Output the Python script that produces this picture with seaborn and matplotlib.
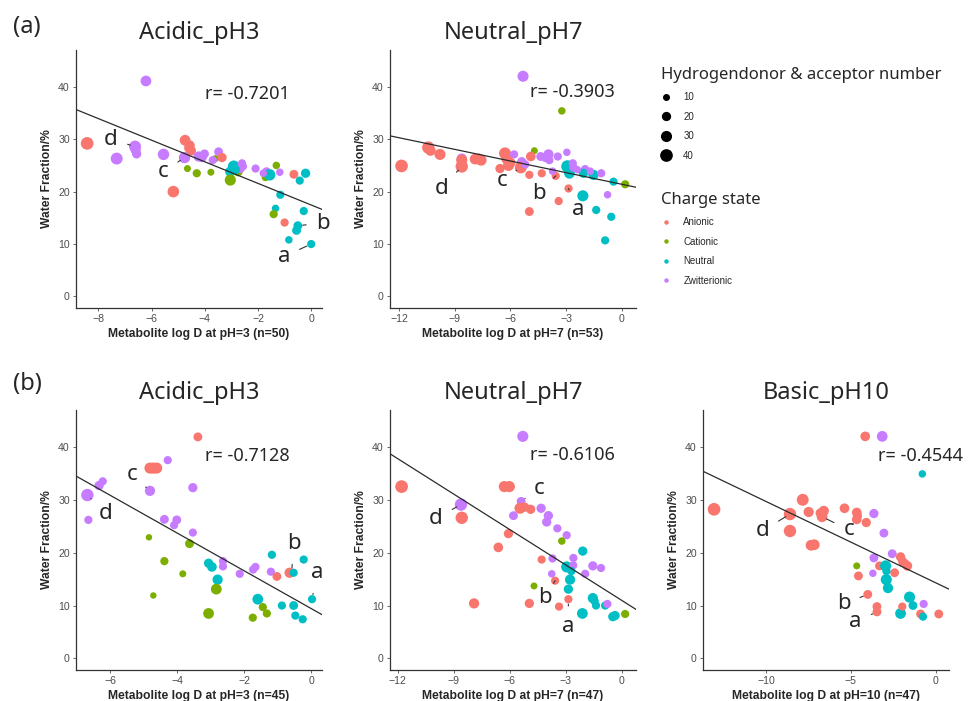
import matplotlib
matplotlib.use('Agg')
import matplotlib.pyplot as plt
from matplotlib.lines import Line2D
import seaborn as sns
import pandas as pd

# charge codes: A anionic, C cationic, N neutral, Z zwitterionic
charge_names = {'A': 'Anionic', 'C': 'Cationic', 'N': 'Neutral', 'Z': 'Zwitterionic'}
charge_order = ['Anionic', 'Cationic', 'Neutral', 'Zwitterionic']
palette = ['#F8766D', '#7CAE00', '#00BFC4', '#C77CFF']
size_levels = [10, 20, 30, 40]

# (a) Acidic pH3, n=50
a1_logd = [-8.42, -7.31, -6.62, -6.56, -6.21, -5.55, -5.18, -4.76, -4.74, -4.57,
           -4.51, -4.65, -4.30, -3.77, -4.23, -4.01, -4.10, -3.60, -3.48, -3.35,
           -2.91, -3.04, -3.04, -2.75, -2.60, -2.66, -2.09, -1.68, -1.72, -1.56,
           -1.31, -1.18, -0.65, -0.21, -0.43, -1.16, -1.34, -1.41, -1.00, -0.28,
           -0.50, -0.55, -0.84, 0.00, -2.85, -3.70, -4.60, -1.80, -2.55, -6.60]
a1_water = [29.2, 26.3, 28.6, 27.2, 41.1, 27.1, 20.0, 26.5, 29.8, 28.8,
            27.8, 24.4, 23.5, 23.7, 26.7, 27.2, 26.5, 26.3, 27.6, 26.5,
            24.8, 23.8, 22.2, 23.8, 25.4, 24.4, 24.4, 23.8, 22.7, 23.2,
            25.0, 23.7, 23.3, 23.5, 22.1, 19.4, 16.8, 15.7, 14.1, 16.3,
            13.5, 12.6, 10.8, 10.0, 24.2, 26.0, 28.3, 23.5, 24.8, 28.0]
a1_charge = list('AZZZZZAZAA' 'ACCCZZZCZA' 'NNCCZZZZCN' 'CZANNNNCAN' 'NNNNNZAZZZ')
a1_hbond = [40, 35, 35, 20, 28, 32, 33, 32, 28, 25,
            22, 10, 15, 10, 25, 18, 20, 10, 18, 20,
            35, 25, 30, 20, 15, 18, 15, 18, 12, 32,
            12, 12, 18, 20, 15, 15, 12, 15, 15, 15,
            18, 18, 12, 15, 20, 15, 20, 12, 12, 25]

# (a) Neutral pH7, n=53
a2_logd = [-11.86, -10.42, -10.30, -9.79, -8.62, -8.62, -8.62, -7.90, -7.58, -6.29,
           -6.20, -6.56, -6.10, -5.80, -5.39, -5.44, -5.32, -4.71, -4.90, -4.98,
           -4.98, -4.37, -3.95, -4.10, -3.45, -2.96, -4.31, -3.56, -2.87, -3.40,
           -3.23, -3.73, -2.93, -2.82, -2.64, -2.60, -1.98, -2.07, -1.53, -1.11,
           -0.45, 0.18, -2.10, -1.38, -0.77, -0.57, -0.90, -6.00, -7.70, -5.20,
           -3.90, -1.70, -2.40]
a2_water = [24.9, 28.4, 27.8, 27.1, 26.3, 26.0, 24.8, 26.2, 26.0, 27.3,
            26.3, 24.4, 25.0, 27.1, 25.7, 24.6, 42.0, 27.8, 26.7, 23.2,
            16.2, 26.7, 27.1, 26.5, 26.7, 27.5, 23.5, 23.0, 20.6, 18.2,
            35.4, 23.9, 24.8, 23.5, 25.4, 24.6, 24.3, 23.5, 23.2, 23.5,
            21.9, 21.4, 19.2, 16.5, 19.4, 15.2, 10.7, 25.5, 26.3, 25.2,
            26.0, 23.9, 24.2]
a2_charge = list('AAAAZAAAAA' 'AAAZZAZCAA' 'AZZZZZAAAA' 'CZNNZZZNNZ' 'NCNNZNNAAZ' 'ZZZ')
a2_hbond = [40, 38, 25, 30, 25, 30, 38, 28, 30, 35,
            30, 20, 30, 15, 20, 35, 30, 10, 22, 15,
            18, 18, 25, 20, 15, 12, 15, 15, 15, 15,
            12, 12, 38, 28, 15, 15, 15, 20, 25, 15,
            15, 15, 30, 15, 12, 15, 15, 25, 25, 15,
            15, 12, 12]

# (b) Acidic pH3, n=45
b1_logd = [-6.68, -6.65, -6.33, -6.22, -4.81, -4.81, -4.61, -4.71, -4.28, -3.38,
           -3.53, -4.38, -4.01, -4.09, -3.53, -4.84, -3.63, -4.38, -3.83, -4.71,
           -3.06, -2.96, -2.79, -2.83, -3.06, -2.63, -2.63, -2.13, -1.73, -1.66,
           -1.59, -1.44, -1.32, -1.74, -1.17, -1.20, -1.02, -0.64, -0.52, -0.87,
           -0.52, -0.47, -0.25, -0.22, 0.03]
b1_water = [30.9, 26.2, 32.7, 33.5, 31.7, 36.0, 36.0, 36.0, 37.5, 41.9,
            32.3, 26.3, 26.2, 25.2, 23.8, 22.9, 21.7, 18.4, 16.0, 11.9,
            18.0, 17.3, 14.9, 13.1, 8.5, 18.4, 17.4, 16.0, 16.8, 17.3,
            11.2, 9.7, 8.5, 7.7, 19.6, 16.4, 15.5, 16.2, 16.2, 10.0,
            10.0, 8.1, 7.4, 18.7, 11.2]
b1_charge = list('ZZZZZAAAZA' 'ZZZZZCCCCC' 'NNNCCZZZZZ' 'NCCCNZAANN' 'NNNNN')
b1_hbond = [38, 15, 20, 15, 25, 30, 30, 30, 15, 18,
            20, 18, 18, 15, 15, 8, 18, 15, 10, 8,
            20, 22, 25, 28, 28, 15, 15, 15, 15, 15,
            28, 15, 15, 15, 15, 15, 18, 25, 15, 15,
            18, 15, 15, 15, 15]

# (b) Neutral pH7, n=47
b2_logd = [-11.79, -8.61, -8.57, -7.91, -6.61, -6.07, -6.29, -6.02, -5.39, -5.45,
           -5.80, -4.88, -5.30, -4.95, -4.70, -4.32, -3.93, -4.02, -3.45, -2.95,
           -4.29, -3.71, -3.75, -3.57, -2.86, -3.36, -3.21, -2.95, -2.77, -2.86,
           -2.60, -2.59, -2.09, -1.96, -1.55, -1.11, -2.11, -1.55, -1.38, -0.89,
           -0.77, -0.48, -0.36, 0.18, -2.70, -1.45, -5.20]
b2_water = [32.5, 29.1, 26.6, 10.4, 21.0, 23.6, 32.5, 32.5, 29.7, 28.4,
            27.0, 28.2, 42.0, 10.4, 13.7, 28.4, 27.0, 25.8, 24.6, 23.3,
            18.7, 18.9, 16.0, 14.7, 11.2, 9.8, 22.2, 17.3, 14.9, 13.1,
            17.6, 19.0, 20.3, 16.0, 17.5, 17.1, 8.5, 11.4, 10.0, 10.0,
            10.3, 7.9, 8.1, 8.4, 16.5, 10.8, 28.6]
b2_charge = list('AZAAAAAAZA' 'ZAZACZZZZZ' 'AZZAAACNNN' 'ZZNZZZNNNN' 'ZNNCNNA')
b2_hbond = [40, 38, 38, 25, 22, 20, 30, 30, 18, 30,
            18, 20, 30, 20, 10, 20, 20, 20, 15, 15,
            15, 15, 12, 15, 15, 15, 12, 30, 25, 20,
            15, 15, 20, 15, 20, 15, 28, 25, 15, 15,
            15, 20, 20, 15, 15, 15, 20]

# (b) Basic pH10, n=47
b3_logd = [-13.05, -7.83, -7.48, -6.59, -6.69, -8.58, -8.58, -7.34, -7.15, -5.37,
           -4.65, -4.65, -4.09, -4.15, -3.15, -3.64, -3.05, -2.56, -3.64, -3.70,
           -4.65, -4.55, -3.31, -2.95, -2.42, -2.91, -2.81, -2.07, -1.93, -1.67,
           -0.79, -4.00, -3.46, -3.46, -1.54, -1.34, -2.07, -1.97, -0.71, -0.89,
           -0.75, 0.18, -6.80, -2.00, -4.60, -2.90, -1.80]
b3_water = [28.2, 30.0, 27.7, 27.9, 26.8, 27.3, 24.1, 21.4, 21.5, 28.4,
            27.6, 26.3, 25.7, 42.0, 42.0, 27.4, 23.7, 19.8, 19.0, 16.1,
            17.5, 15.6, 17.5, 17.5, 16.2, 14.9, 13.3, 19.2, 18.2, 17.5,
            34.9, 12.1, 9.8, 8.8, 11.6, 10.0, 8.5, 9.8, 10.3, 8.4,
            7.9, 8.4, 27.5, 18.7, 27.0, 16.5, 18.0]
b3_charge = list('AAAAAAAAAA' 'AAAAZZZZZZ' 'CAANANNAAA' 'NAAANNNAZA' 'NAAAANA')
b3_hbond = [40, 35, 25, 25, 28, 38, 38, 28, 28, 22,
            22, 22, 20, 22, 28, 20, 18, 18, 18, 12,
            10, 18, 18, 30, 18, 30, 25, 20, 20, 22,
            12, 18, 18, 18, 30, 18, 28, 15, 15, 18,
            15, 18, 20, 15, 18, 15, 15]

# fitted lines (intercept, slope) and correlation labels
fit_intercept = [17.45, 21.4, 9.44, 10.97, 14.3]
fit_slope = [-2.06, -0.74, -3.57, -2.235, -1.54]
r_values = ['-0.7201', '-0.3903', '-0.7128', '-0.6106', '-0.4544']

titles = ['Acidic_pH3', 'Neutral_pH7', 'Acidic_pH3', 'Neutral_pH7', 'Basic_pH10']
xlabels = ['Metabolite log D at pH=3 (n=50)', 'Metabolite log D at pH=7 (n=53)',
           'Metabolite log D at pH=3 (n=45)', 'Metabolite log D at pH=7 (n=47)',
           'Metabolite log D at pH=10 (n=47)']
xticks = [[-8, -6, -4, -2, 0], [-12, -9, -6, -3, 0], [-6, -4, -2, 0],
          [-12, -9, -6, -3, 0], [-10, -5, 0]]
yticks = [0, 10, 20, 30, 40]

panel_data = [(a1_logd, a1_water, a1_charge, a1_hbond),
              (a2_logd, a2_water, a2_charge, a2_hbond),
              (b1_logd, b1_water, b1_charge, b1_hbond),
              (b2_logd, b2_water, b2_charge, b2_hbond),
              (b3_logd, b3_water, b3_charge, b3_hbond)]

# layout (figure fractions) and axis ranges
boxes = [[0.0784, 0.5606, 0.254, 0.368], [0.4025, 0.5606, 0.254, 0.368],
         [0.0784, 0.0442, 0.254, 0.371], [0.4025, 0.0442, 0.254, 0.371],
         [0.7255, 0.0442, 0.254, 0.371]]
xlims = [(-8.84, 0.41), (-12.48, 0.77), (-7.02, 0.33), (-12.41, 0.77), (-13.7, 0.79)]
r_pos = [(-2.39, 38.7), (-2.66, 39.0), (-1.89, 38.2), (-2.64, 38.4), (-0.89, 38.3)]

# point labels: text position and the point it refers to
lab_text = ['a', 'b', 'c', 'd']
lab_xy = [[(-1.03, 7.6), (0.45, 14.0), (-5.55, 23.8), (-7.53, 30.0)],
          [(-2.34, 16.5), (-4.49, 19.7), (-6.47, 22.2), (-9.7, 20.6)],
          [(0.18, 16.2), (-0.52, 21.7), (-5.35, 34.7), (-6.12, 27.4)],
          [(-2.86, 6.0), (-4.11, 11.6), (-4.41, 32.2), (-9.95, 26.5)],
          [(-4.72, 6.9), (-5.43, 10.3), (-5.12, 24.3), (-10.2, 24.1)]]
lab_target = [[(0.0, 10.0), (-0.5, 13.5), (-4.76, 26.5), (-6.62, 28.6)],
              [(-2.87, 20.6), (-3.56, 23.0), (-5.44, 24.6), (-8.62, 24.8)],
              [(0.03, 11.2), (-0.58, 16.2), (-4.81, 31.7), (-6.68, 30.9)],
              [(-2.86, 11.2), (-3.57, 14.7), (-5.39, 29.7), (-8.61, 29.1)],
              [(-3.46, 8.8), (-4.0, 12.1), (-6.69, 26.8), (-8.58, 27.3)]]

sns.set_style('white')
plt.rcParams['font.family'] = ['Liberation Sans', 'DejaVu Sans']
title_font = ['Noto Sans', 'DejaVu Sans']

size_range = (6, 93)
size_norm = (0, 45)

fig = plt.figure(figsize=(9.69, 7.01), dpi=100)

for i, (logd, water, charge, hbond) in enumerate(panel_data):
    df = pd.DataFrame({'logD': logd, 'water': water,
                       'charge': [charge_names[c] for c in charge],
                       'hbond': hbond})
    ax = fig.add_axes(boxes[i])
    sns.scatterplot(data=df, x='logD', y='water', hue='charge', hue_order=charge_order,
                    palette=palette, size='hbond', sizes=size_range, size_norm=size_norm,
                    linewidth=0, legend=False, ax=ax, zorder=2)
    ax.axline((0, fit_intercept[i]), slope=fit_slope[i], color='#2b2b2b', lw=0.9, zorder=3)
    ax.set_xlim(xlims[i])
    ax.set_ylim(-2.2, 47)
    ax.set_xticks(xticks[i])
    ax.set_yticks(yticks)
    ax.set_xlabel(xlabels[i], fontsize=8.7, fontweight='bold', labelpad=3)
    ax.set_ylabel('Water Fraction/%', fontsize=8.7, fontweight='bold', labelpad=4)
    ax.set_title(titles[i], fontsize=17, family=title_font, pad=8)
    ax.tick_params(axis='both', labelsize=7.6, colors='#4d4d4d', length=2.5, width=0.6,
                   direction='out', pad=2, bottom=True, left=True)
    for s in ['top', 'right']:
        ax.spines[s].set_visible(False)
    for s in ['left', 'bottom']:
        ax.spines[s].set_color('#333333')
        ax.spines[s].set_linewidth(0.9)
    ax.text(r_pos[i][0], r_pos[i][1], 'r= ' + r_values[i], fontsize=13, family=title_font,
            ha='center', va='center')
    for t, xy, tg in zip(lab_text, lab_xy[i], lab_target[i]):
        ax.annotate(t, xy=tg, xytext=xy, fontsize=16, family=title_font,
                    ha='center', va='center',
                    arrowprops=dict(arrowstyle='-', color='#333333', lw=0.8,
                                    shrinkA=5, shrinkB=3.5))

fig.text(0.013, 1 - 27 / 701, '(a)', fontsize=17, family=title_font, va='center')
fig.text(0.013, 1 - 384 / 701, '(b)', fontsize=17, family=title_font, va='center')

# legends
def area(v):
    return size_range[0] + (size_range[1] - size_range[0]) * (v - size_norm[0]) / (size_norm[1] - size_norm[0])

size_handles = [Line2D([], [], marker='o', ls='', color='black', markeredgewidth=0,
                       markersize=area(v) ** 0.5) for v in size_levels]
leg1 = fig.legend(size_handles, [str(v) for v in size_levels],
                  title='Hydrogendonor & acceptor number', loc='upper left',
                  bbox_to_anchor=(657 / 969, 1 - 63 / 701), frameon=False, fontsize=7,
                  title_fontproperties={'family': title_font, 'size': 12},
                  alignment='left', labelspacing=0.97, handletextpad=1.3,
                  handlelength=1.0, borderaxespad=0)
charge_handles = [Line2D([], [], marker='o', ls='', color=c, markeredgewidth=0,
                         markersize=3.2) for c in palette]
leg2 = fig.legend(charge_handles, charge_order, title='Charge state', loc='upper left',
                  bbox_to_anchor=(657 / 969, 1 - 188 / 701), frameon=False, fontsize=7,
                  title_fontproperties={'family': title_font, 'size': 12},
                  alignment='left', labelspacing=0.97, handletextpad=1.3,
                  handlelength=1.0, borderaxespad=0)

fig.savefig('out.png', dpi=100)
